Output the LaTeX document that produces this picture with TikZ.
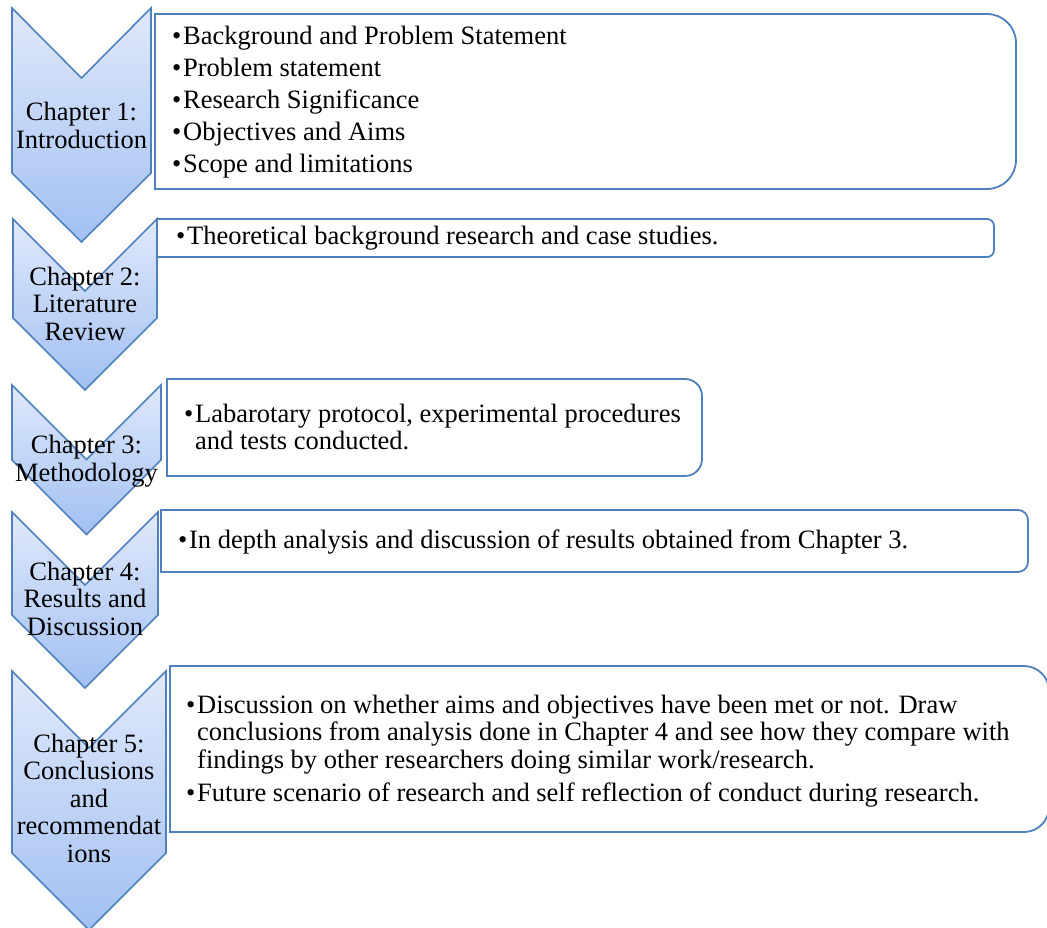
\documentclass[tikz,border=0pt]{standalone}
\usepackage{fontspec}
\setmainfont{Liberation Serif}
\definecolor{edgeblue}{HTML}{4F81BD}
\definecolor{chevtop}{HTML}{DFE9FB}
\definecolor{chevbot}{HTML}{A2C0F2}
\newcommand\bul{\makebox[11pt][l]{\textbullet}}
\newcommand\hgi{\hspace*{11pt}}
% chevron: name, L, R, T, notch, shoulder, tip
\newcommand\chevron[7]{%
  \pgfmathsetmacro\cx{(#2+#3)/2}%
  \draw[chev] (#2,-#4) -- (\cx,-#5) -- (#3,-#4) -- (#3,-#6) -- (\cx,-#7) -- (#2,-#6) -- cycle;
  \coordinate (#1) at (\cx,-#4);}
% box: L, T, R, B, r (right corners rounded)
\newcommand\rbox[5]{%
  \draw[boxline] (#1,-#2) -- ({#3-#5},-#2) arc[start angle=90,end angle=0,radius=#5]
    -- (#3,{-#4+#5}) arc[start angle=0,end angle=-90,radius=#5] -- (#1,-#4) -- cycle;}
\tikzset{
  chev/.style={draw=edgeblue, line width=1.6pt, line join=miter, top color=chevtop, bottom color=chevbot},
  boxline/.style={draw=edgeblue, line width=1.8pt, fill=white},
  chevtext/.style={anchor=base, align=center, inner sep=0pt, font=\fontsize{26.5}{27.5}\selectfont},
  boxtext/.style={anchor=base west, align=left, inner sep=0pt, font=\fontsize{26.5}{27.5}\selectfont},
}
\begin{document}
\begin{tikzpicture}[x=1pt,y=1pt]
\useasboundingbox (0,0) rectangle (1047,-928);
\clip (0,0) rectangle (1047,-928);
% chevrons
\chevron{c1}{12}{151}{8}{78}{173}{242}
\chevron{c2}{13}{157}{219}{291}{318}{390}
\chevron{c3}{12}{161}{385}{459.5}{460}{534.5}
\chevron{c4}{12}{158}{512}{585}{615}{688}
\chevron{c5}{12}{166}{671}{748}{853}{930}
% boxes
\rbox{155}{14}{1016}{189}{29}
\rbox{157}{219}{994}{257}{7}
\rbox{167}{379}{702}{476}{17}
\rbox{161}{510}{1028}{572}{10}
\rbox{170}{666}{1049}{832}{25}
% chevron texts (anchored at the baseline of the last line)
\node[chevtext] (t1) at (81.5,-148.25) {Chapter 1:\\Introduction};
\node[chevtext] (t2) at (85,-340) {Chapter 2:\\Literature\\Review};
\node[chevtext] (t3) at (86.5,-481.25) {Chapter 3:\\Methodology};
\node[chevtext] (t4) at (85,-635) {Chapter 4:\\Results and\\Discussion};
\node[chevtext] (t5) at (89,-862) {Chapter 5:\\Conclusions\\and\\recommendat\\ions};
% box texts (anchored at the baseline of the last line)
\node[boxtext] (b1) at (172,-172.2) {\bul Background and Problem Statement\\[4.3pt]
  \bul Problem statement\\[4.3pt]
  \bul Research Significance\\[4.3pt]
  \bul Objectives and Aims\\[4.3pt]
  \bul Scope and limitations};
\node[boxtext] (b2) at (176,-245) {\bul Theoretical background research and case studies.};
\node[boxtext] (b3) at (184,-449.5) {\bul Labarotary protocol, experimental procedures\\
  \hgi and tests conducted.};
\node[boxtext] (b4) at (178,-548) {\bul In depth analysis and discussion of results obtained from Chapter 3.};
\node[boxtext] (b5) at (186,-801) {\bul Discussion on whether aims and objectives have been met or not. Draw\\
  \hgi conclusions from analysis done in Chapter 4 and see how they compare with\\
  \hgi findings by other researchers doing similar work/research.\\[5.5pt]
  \bul Future scenario of research and self reflection of conduct during research.};
\end{tikzpicture}
\end{document}
